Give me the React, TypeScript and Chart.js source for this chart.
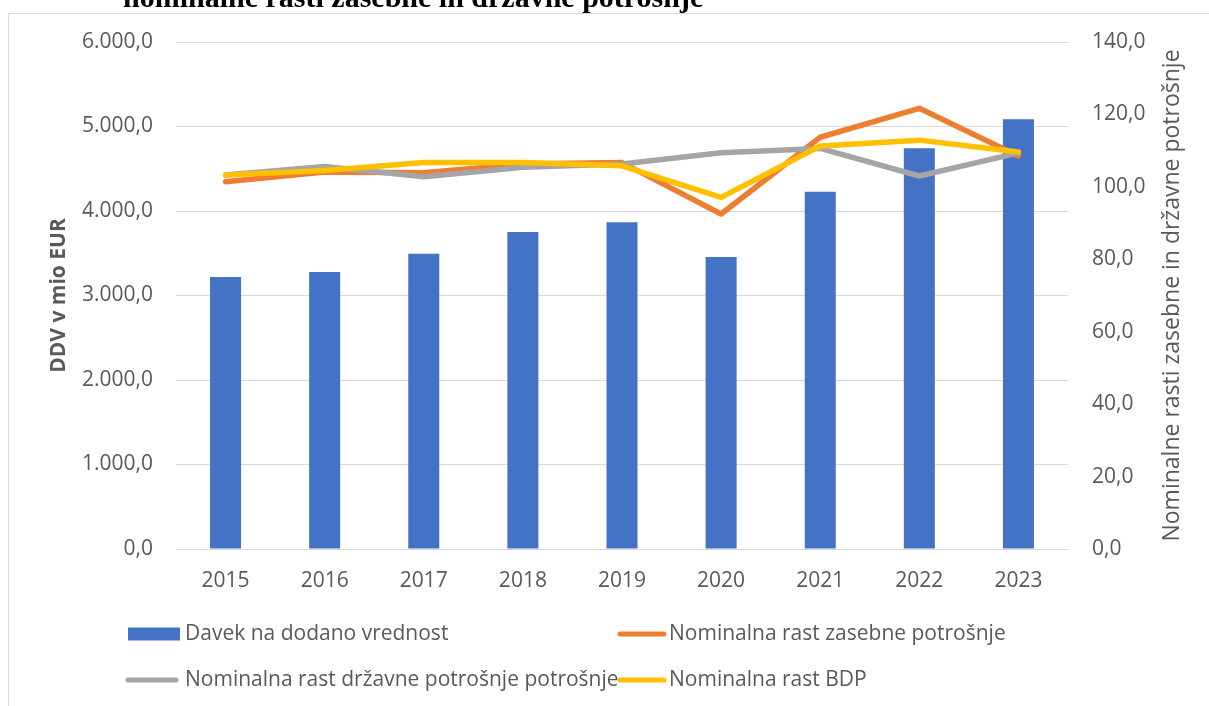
import React, { useEffect, useRef } from "react";
import { Chart, registerables } from "chart.js";

Chart.register(...registerables);

const years = ["2015", "2016", "2017", "2018", "2019", "2020", "2021", "2022", "2023"];
const ddv = [3219, 3278, 3494, 3752, 3866, 3455, 4229, 4742, 5085];
const zasebna = [101.4, 104.1, 103.9, 106.3, 106.7, 92.5, 113.7, 121.7, 108.5];
const drzavna = [103.3, 105.6, 102.8, 105.4, 106.3, 109.4, 110.6, 103.0, 109.4];
const bdp = [103.3, 104.5, 106.7, 106.7, 105.8, 97.1, 111.3, 112.9, 109.6];

const titleText = "nominalne rasti zasebne in državne potrošnje";
const leftTitle = "DDV v mio EUR";
const rightTitle = "Nominalne rasti zasebne in državne potrošnje";
const legendLabels = [
  "Davek na dodano vrednost",
  "Nominalna rast zasebne potrošnje",
  "Nominalna rast državne potrošnje potrošnje",
  "Nominalna rast BDP",
];

const BLUE = "#4472C4";
const ORANGE = "#ED7D31";
const GRAY = "#A5A5A5";
const YELLOW = "#FFC000";
const TEXT = "#595959";
const FONT = "'Open Sans', sans-serif";

const fmt = (v: number) => {
  const parts = Number(v).toFixed(1).split(".");
  return parts[0].replace(/\B(?=(\d{3})+(?!\d))/g, ".") + "," + parts[1];
};

const decorPlugin = {
  id: "decor",
  afterDraw(chart: any) {
    const ctx = chart.ctx as CanvasRenderingContext2D;
    const area = chart.chartArea;
    ctx.save();
    // frame
    ctx.strokeStyle = "#d9d9d9";
    ctx.lineWidth = 1;
    ctx.beginPath();
    ctx.moveTo(8.5, 706);
    ctx.lineTo(8.5, 13.5);
    ctx.lineTo(1209, 13.5);
    ctx.stroke();

    // chart title (cut off)
    ctx.fillStyle = "#000";
    ctx.font = "bold 30px 'Liberation Serif', serif";
    ctx.textAlign = "left";
    ctx.textBaseline = "alphabetic";
    ctx.fillText(titleText, 123, 7);

    // left axis title
    const midY = (area.top + area.bottom) / 2;
    ctx.fillStyle = TEXT;
    ctx.font = "bold 21px " + FONT;
    ctx.textAlign = "center";
    ctx.textBaseline = "middle";
    ctx.save();
    ctx.translate(59, midY);
    ctx.rotate(-Math.PI / 2);
    ctx.fillText(leftTitle, 0, 0);
    ctx.restore();

    // right axis title
    ctx.font = "23px " + FONT;
    ctx.save();
    ctx.translate(1172, midY);
    ctx.rotate(-Math.PI / 2);
    ctx.fillText(rightTitle, 0, 0);
    ctx.restore();

    // legend
    ctx.font = "21px " + FONT;
    ctx.textAlign = "left";
    ctx.textBaseline = "middle";
    const row1 = 634;
    const row2 = 680;
    ctx.fillStyle = BLUE;
    ctx.fillRect(128, row1 - 6.5, 52, 13);
    ctx.fillStyle = TEXT;
    ctx.fillText(legendLabels[0], 185, row1);

    const legLine = (x1: number, x2: number, y: number, c: string) => {
      ctx.strokeStyle = c;
      ctx.lineWidth = 5;
      ctx.lineCap = "round";
      ctx.beginPath();
      ctx.moveTo(x1, y);
      ctx.lineTo(x2, y);
      ctx.stroke();
    };
    legLine(620, 664, row1, ORANGE);
    ctx.fillText(legendLabels[1], 669, row1);
    legLine(128, 176, row2, GRAY);
    ctx.fillText(legendLabels[2], 185, row2);
    legLine(620, 664, row2, YELLOW);
    ctx.fillText(legendLabels[3], 669, row2);
    ctx.restore();
  },
};

export default function App() {
  const ref = useRef<HTMLCanvasElement | null>(null);
  useEffect(() => {
    if (!ref.current) return;
    const lineDs = (label: string, data: number[], color: string, order: number) => ({
      type: "line" as const,
      label,
      data,
      yAxisID: "y1",
      borderColor: color,
      backgroundColor: color,
      borderWidth: 5.5,
      pointRadius: 0,
      borderCapStyle: "round" as const,
      borderJoinStyle: "round" as const,
      tension: 0,
      order,
    });
    const chart = new Chart(ref.current, {
      type: "bar",
      data: {
        labels: years,
        datasets: [
          {
            type: "bar" as const,
            label: legendLabels[0],
            data: ddv,
            yAxisID: "y",
            backgroundColor: BLUE,
            categoryPercentage: 1,
            barPercentage: 0.313,
            order: 4,
          },
          lineDs(legendLabels[1], zasebna, ORANGE, 3),
          lineDs(legendLabels[2], drzavna, GRAY, 2),
          lineDs(legendLabels[3], bdp, YELLOW, 1),
        ] as any,
      },
      plugins: [decorPlugin],
      options: {
        responsive: false,
        animation: false,
        layout: { padding: { top: 42, left: 0, right: 0, bottom: 0 } },
        plugins: {
          legend: { display: false },
          tooltip: { enabled: false },
          title: { display: false },
        },
        scales: {
          x: {
            grid: { display: false, drawTicks: false },
            border: { display: false },
            ticks: { color: TEXT, font: { family: FONT, size: 21 }, padding: 19 },
            afterFit: (s: any) => {
              s.height = 157;
            },
          },
          y: {
            position: "left",
            min: 0,
            max: 6000,
            ticks: {
              stepSize: 1000,
              color: TEXT,
              font: { family: FONT, size: 21 },
              padding: 23,
              callback: (v: any) => fmt(v),
            },
            grid: { color: "#d9d9d9", lineWidth: 1, drawTicks: false },
            border: { display: false },
            afterFit: (s: any) => {
              s.width = 176;
            },
          },
          y1: {
            position: "right",
            min: 0,
            max: 140,
            ticks: {
              stepSize: 20,
              color: TEXT,
              font: { family: FONT, size: 21 },
              padding: 24,
              callback: (v: any) => fmt(v),
            },
            grid: { display: false, drawTicks: false },
            border: { display: false },
            afterFit: (s: any) => {
              s.width = 141;
            },
          },
        },
      } as any,
    });
    return () => chart.destroy();
  }, []);
  return (
    <div style={{ position: "fixed", left: 0, top: 0, width: 1209, height: 706, background: "#fff" }}>
      <canvas ref={ref} width={1209} height={706} style={{ display: "block" }} />
    </div>
  );
}
